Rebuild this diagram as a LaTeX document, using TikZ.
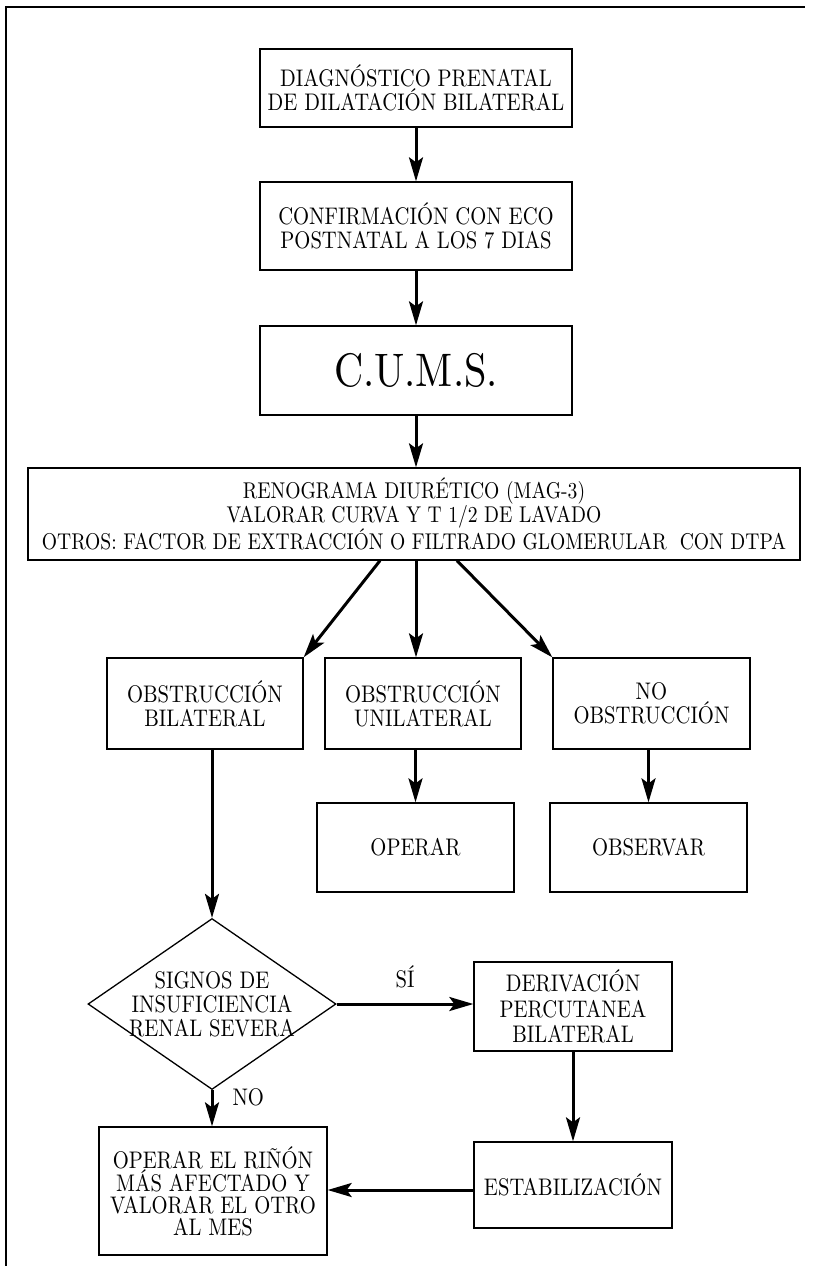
\documentclass[tikz,border=0pt]{standalone}
\usepackage{fontspec}
\setmainfont{lmroman10-regular.otf}[FakeStretch=0.86]
\usetikzlibrary{arrows.meta,shapes.geometric}
\tikzset{
  box/.style={draw, line width=1.3pt, align=center, inner sep=0pt,
    font=\fontsize{24}{24}\selectfont},
  dia/.style={draw, diamond, line width=1.3pt, align=center, inner sep=-4pt,
    font=\fontsize{24}{24}\selectfont},
  arr/.style={line width=3pt, -{Stealth[length=24pt,width=14pt,inset=5pt]}},
  lbl/.style={font=\fontsize{24}{24}\selectfont, inner sep=0pt}
}
\begin{document}
\begin{tikzpicture}[x=1pt,y=-1pt]
\useasboundingbox (0,0) rectangle (812,1266);
\draw[line width=1.3pt] (6,1266) -- (6,7) -- (805,7);

\node[box, minimum width=312pt, minimum height=78pt, font=\fontsize{24}{23.5}\selectfont] (b1) at (416,88)
  {DIAGNÓSTICO PRENATAL\\DE DILATACIÓN BILATERAL};
\node[box, minimum width=312pt, minimum height=88pt] (b2) at (416,226)
  {CONFIRMACIÓN CON ECO\\POSTNATAL A LOS 7 DIAS};
\node[box, minimum width=312pt, minimum height=89pt, font=\fontsize{47}{50}\selectfont] (b3) at (416,370.5)
  {C.U.M.S.};
\node[box, minimum width=772pt, minimum height=92pt, font=\fontsize{22.8}{22.5}\selectfont] (reno) at (414,514)
  {RENOGRAMA DIURÉTICO (MAG-3)\\VALORAR CURVA Y T 1/2 DE LAVADO\\OTROS: FACTOR DE EXTRACCIÓN O FILTRADO GLOMERULAR\ \ CON DTPA};

\node[box, minimum width=196pt, minimum height=91pt] (bil) at (205,703.5)
  {OBSTRUCCIÓN\\BILATERAL};
\node[box, minimum width=196pt, minimum height=91pt] (uni) at (423,703.5)
  {OBSTRUCCIÓN\\UNILATERAL};
\node[box, minimum width=197pt, minimum height=91pt] (noob) at (651.5,703.5)
  {NO\\OBSTRUCCIÓN};
\node[box, minimum width=197pt, minimum height=89pt] (oper) at (415.5,847.5) {OPERAR};
\node[box, minimum width=197pt, minimum height=89pt] (obs) at (648.5,847.5) {OBSERVAR};

\node[dia, minimum width=248pt, minimum height=171pt, aspect=1.45] (dec) at (212,1004)
  {SIGNOS DE\\INSUFICIENCIA\\RENAL SEVERA};
\node[box, minimum width=198pt, minimum height=89pt, font=\fontsize{24}{25.5}\selectfont] (der) at (573,1006.5)
  {DERIVACIÓN\\PERCUTANEA\\BILATERAL};
\node[box, minimum width=198pt, minimum height=86pt] (est) at (573,1185) {ESTABILIZACIÓN};
\node[box, minimum width=228pt, minimum height=128pt, font=\fontsize{24}{21.7}\selectfont] (rin) at (213,1191)
  {OPERAR EL RIÑÓN\\MÁS AFECTADO Y\\VALORAR EL OTRO\\AL MES};

\draw[arr] (b1) -- (b2);
\draw[arr] (b2) -- (b3);
\draw[arr] (b3.south) -- (b3.south |- reno.north);
\draw[arr] ([xshift=-34pt]reno.south) -- (bil.north east);
\draw[arr] (b3.south |- reno.south) -- (b3.south |- uni.north);
\draw[arr] ([xshift=43pt]reno.south) -- (noob.north west);
\draw[arr] (oper.north |- uni.south) -- (oper.north);
\draw[arr] (obs.north |- noob.south) -- (obs.north);
\draw[arr] (dec.north |- bil.south) -- (dec.north);
\draw[arr] (dec.east) -- node[lbl, above=14pt] {SÍ} (dec.east -| der.west);
\draw[arr] (dec.south) -- node[lbl, pos=0.2, right=19pt] {NO} (dec.south |- rin.north);
\draw[arr] (der) -- (est);
\draw[arr] ([yshift=-5pt]est.west) -- ([yshift=-5pt]est.west -| rin.east);
\end{tikzpicture}
\end{document}
